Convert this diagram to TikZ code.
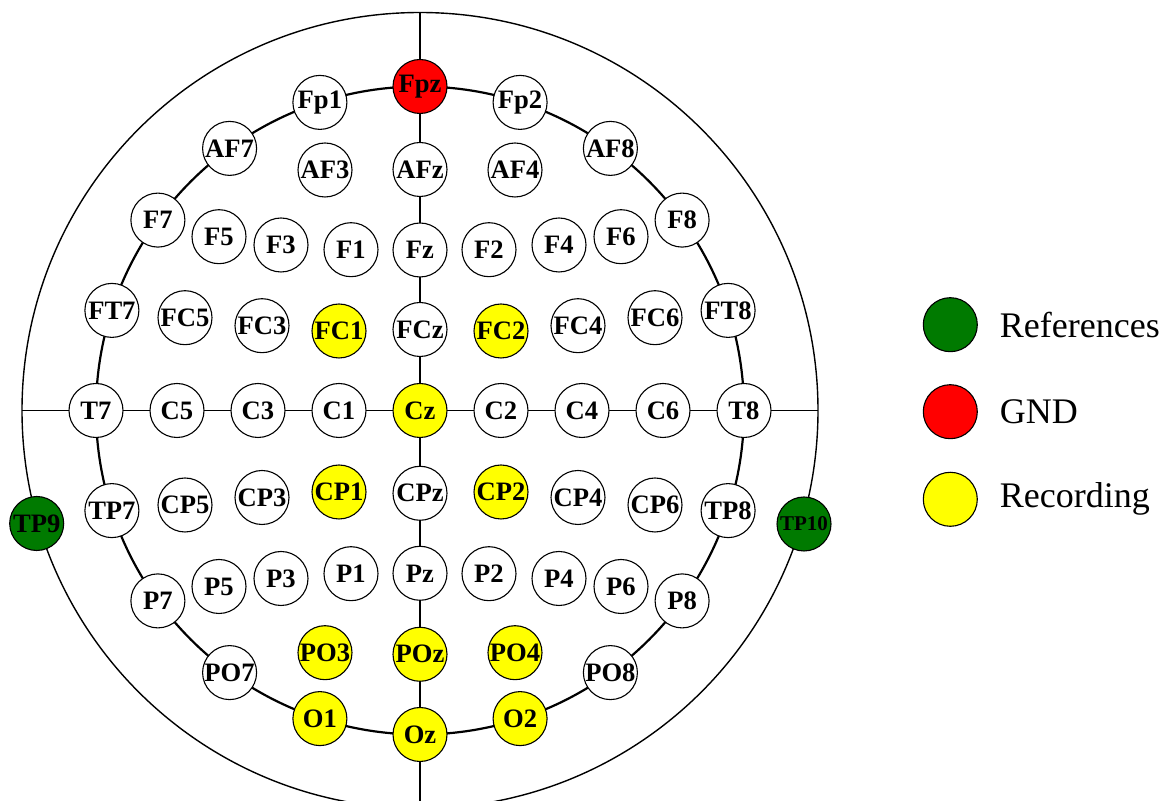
\documentclass[tikz,border=0pt]{standalone}
\usepackage{fontspec}
\setmainfont{Liberation Serif}
\definecolor{refgreen}{RGB}{0,122,0}
\definecolor{gndred}{RGB}{255,0,0}
\definecolor{recyellow}{RGB}{255,255,0}
\begin{document}
\begin{tikzpicture}[x=0.5pt,y=-0.5pt,
  el/.style={circle,draw=black,line width=0.55pt,fill=white,minimum size=27pt,inner sep=0pt,
    font=\fontsize{13.3}{14}\selectfont\bfseries},
  recel/.style={el,fill=recyellow},
  gndel/.style={el,fill=gndred},
  refel/.style={el,fill=refgreen},
  legdot/.style={circle,draw=black,line width=0.55pt,minimum size=27pt,inner sep=0pt},
  legtext/.style={anchor=west,inner sep=0pt,font=\fontsize{18}{20}\selectfont},
  axisline/.style={line width=0.7pt},
  ringline/.style={line width=1.1pt}]
\useasboundingbox (0,0) rectangle (1169,801);
\clip (0,0) rectangle (1169,801);
\coordinate (O) at (420,410.5);
\coordinate (L) at (22,410.5);
\coordinate (R) at (818,410.5);
\coordinate (T) at (420,12.5);
\coordinate (B) at (420,801);
% outer head and axes
\draw[axisline] (O) circle[radius=199pt];
\draw[axisline] (L) -- (R);
\draw[axisline] (T) -- (B);
% inner ring
\draw[ringline] (O) circle[radius=162pt];
% ring electrodes
\node[gndel] (Fpz) at (420,86.5) {Fpz};
\node[el] (Fp1) at (319.9,102.4) {Fp1};
\node[el] (Fp2) at (520.1,102.4) {Fp2};
\node[el] (AF7) at (229.6,148.4) {AF7};
\node[el] (AF8) at (610.4,148.4) {AF8};
\node[el] (F7) at (157.9,220.1) {F7};
\node[el] (F8) at (682.1,220.1) {F8};
\node[el] (FT7) at (111.9,310.4) {FT7};
\node[el] (FT8) at (728.1,310.4) {FT8};
\node[el] (T7) at (96,410.5) {T7};
\node[el] (T8) at (744,410.5) {T8};
\node[el] (TP7) at (111.9,510.6) {TP7};
\node[el] (TP8) at (728.1,510.6) {TP8};
\node[el] (P7) at (157.9,600.9) {P7};
\node[el] (P8) at (682.1,600.9) {P8};
\node[el] (PO7) at (229.6,672.6) {PO7};
\node[el] (PO8) at (610.4,672.6) {PO8};
\node[recel] (O1) at (319.9,718.6) {O1};
\node[recel] (O2) at (520.1,718.6) {O2};
\node[recel] (Oz) at (420,734.5) {Oz};
% AF row
\node[el] (AF3) at (325,170) {AF3};
\node[el] (AFz) at (420,169.5) {AFz};
\node[el] (AF4) at (515,170) {AF4};
% F row
\node[el] (F5) at (219,236.7) {F5};
\node[el] (F3) at (281,245) {F3};
\node[el] (F1) at (351,249.7) {F1};
\node[el] (Fz) at (420,250) {Fz};
\node[el] (F2) at (489,249.7) {F2};
\node[el] (F4) at (559,245) {F4};
\node[el] (F6) at (621,236.7) {F6};
% FC row
\node[el] (FC5) at (185,317.7) {FC5};
\node[el] (FC3) at (262,325.7) {FC3};
\node[recel] (FC1) at (339,331) {FC1};
\node[el] (FCz) at (420,329.5) {FCz};
\node[recel] (FC2) at (501,331) {FC2};
\node[el] (FC4) at (578,325.7) {FC4};
\node[el] (FC6) at (655,317.7) {FC6};
% C row
\node[el] (C5) at (177,410.5) {C5};
\node[el] (C3) at (258,410.5) {C3};
\node[el] (C1) at (339,410.5) {C1};
\node[recel] (Cz) at (420,410.5) {Cz};
\node[el] (C2) at (501,410.5) {C2};
\node[el] (C4) at (582,410.5) {C4};
\node[el] (C6) at (663,410.5) {C6};
% CP row
\node[el] (CP5) at (185,505) {CP5};
\node[el] (CP3) at (262,497.5) {CP3};
\node[recel] (CP1) at (339,492) {CP1};
\node[el] (CPz) at (420,493.3) {CPz};
\node[recel] (CP2) at (501,492) {CP2};
\node[el] (CP4) at (578,497.5) {CP4};
\node[el] (CP6) at (655,505) {CP6};
% P row
\node[el] (P5) at (219,586.5) {P5};
\node[el] (P3) at (281,578.5) {P3};
\node[el] (P1) at (351,573.7) {P1};
\node[el] (Pz) at (420,573.3) {Pz};
\node[el] (P2) at (489,573.7) {P2};
\node[el] (P4) at (559,578.5) {P4};
\node[el] (P6) at (621,586.5) {P6};
% PO row
\node[recel] (PO3) at (325,652.7) {PO3};
\node[recel] (POz) at (420,654.3) {POz};
\node[recel] (PO4) at (515,652.7) {PO4};
% references
\node[refel] (TP9) at (36.7,523.5) {TP9};
\node[refel,font=\fontsize{10.5}{12}\selectfont\bfseries] (TP10) at (804,524) {TP10};
% legend
\node[legdot,fill=refgreen] (lref) at (950.3,324.7) {};
\node[legdot,fill=gndred] (lgnd) at (950.3,411.7) {};
\node[legdot,fill=recyellow] (lrec) at (950.3,499.3) {};
\node[legtext] (tref) at (999.5,324.7) {References};
\node[legtext] (tgnd) at (999.5,411.7) {GND};
\node[legtext] (trec) at (999.5,499.3) {Recording};
\end{tikzpicture}
\end{document}
